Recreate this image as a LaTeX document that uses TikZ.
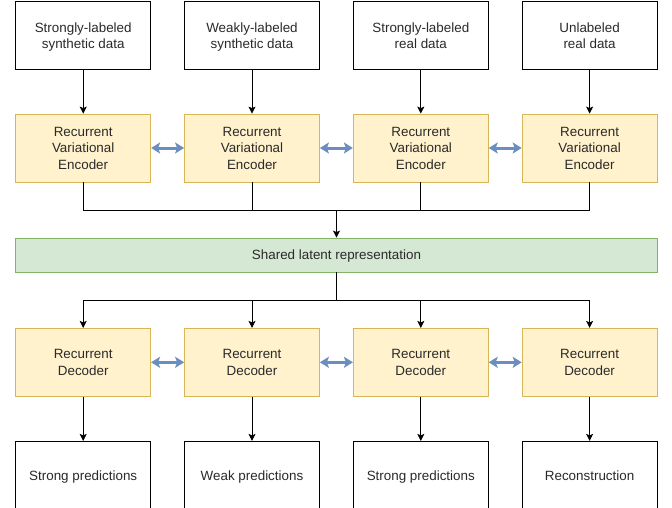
\documentclass[tikz,border=0pt]{standalone}
\usepackage{fontspec}
\setmainfont{Liberation Sans}
\usetikzlibrary{arrows.meta, positioning, calc}
\definecolor{encfill}{HTML}{FFF2CC}
\definecolor{encdraw}{HTML}{D6B656}
\definecolor{latfill}{HTML}{D5E8D4}
\definecolor{latdraw}{HTML}{82B366}
\definecolor{linkblue}{HTML}{6C8EBF}
\definecolor{txt}{HTML}{2A2A2A}

\begin{document}
\begin{tikzpicture}[
  x=1pt, y=-1pt,
  >={Stealth[length=7pt,width=7pt,inset=1.5pt]},
  box/.style={draw=black, line width=0.8pt, minimum width=135pt, minimum height=68pt, inner sep=0pt, align=center, text depth=0pt, text=txt, font=\fontsize{13.4}{16.5}\selectfont},
  databox/.style={box, fill=white},
  netbox/.style={box, draw=encdraw, fill=encfill},
  latent/.style={box, draw=latdraw, fill=latfill, minimum width=641.6pt, minimum height=34pt},
  flow/.style={draw=black, line width=0.8pt},
  link/.style={draw=linkblue, line width=3pt, {Stealth[length=9pt,width=11pt,inset=2pt]}-{Stealth[length=9pt,width=11pt,inset=2pt]}}
  ]
  \useasboundingbox (0,0) rectangle (672,507);
  % inputs
  \node[databox] (in1) at (83.2,35.5)  {Strongly-labeled\\synthetic data};
  \node[databox] (in2) at (252,35.5)   {Weakly-labeled\\synthetic data};
  \node[databox] (in3) at (420.8,35.5) {Strongly-labeled\\real data};
  \node[databox] (in4) at (589.6,35.5) {Unlabeled\\real data};
  % encoders
  \node[netbox] (enc1) at (83.2,148)  {Recurrent\\Variational\\Encoder};
  \node[netbox] (enc2) at (252,148)   {Recurrent\\Variational\\Encoder};
  \node[netbox] (enc3) at (420.8,148) {Recurrent\\Variational\\Encoder};
  \node[netbox] (enc4) at (589.6,148) {Recurrent\\Variational\\Encoder};
  % shared latent
  \node[latent] (lat) at (336.5,255) {Shared latent representation};
  % decoders
  \node[netbox] (dec1) at (83.2,362.3)  {Recurrent\\Decoder};
  \node[netbox] (dec2) at (252,362.3)   {Recurrent\\Decoder};
  \node[netbox] (dec3) at (420.8,362.3) {Recurrent\\Decoder};
  \node[netbox] (dec4) at (589.6,362.3) {Recurrent\\Decoder};
  % outputs
  \node[databox] (out1) at (83.2,475.3)  {Strong predictions};
  \node[databox] (out2) at (252,475.3)   {Weak predictions};
  \node[databox] (out3) at (420.8,475.3) {Strong predictions};
  \node[databox] (out4) at (589.6,475.3) {Reconstruction};

  \coordinate (mergeE) at (336.5,210);
  \coordinate (splitD) at (336.5,300);

  \draw[flow,->] (in1) -- (enc1);
  \draw[flow,->] (in2) -- (enc2);
  \draw[flow,->] (in3) -- (enc3);
  \draw[flow,->] (in4) -- (enc4);

  \draw[link] (enc1) -- (enc2);
  \draw[link] (enc2) -- (enc3);
  \draw[link] (enc3) -- (enc4);

  \draw[flow] (enc1.south) |- (mergeE);
  \draw[flow] (enc4.south) |- (mergeE);
  \draw[flow] (enc2.south) -- (enc2.south |- mergeE);
  \draw[flow] (enc3.south) -- (enc3.south |- mergeE);
  \draw[flow,->] (mergeE) -- (lat.north);

  \draw[flow] (lat.south) -- (splitD);
  \draw[flow,->] (splitD) -| (dec1.north);
  \draw[flow,->] (splitD) -| (dec2.north);
  \draw[flow,->] (splitD) -| (dec3.north);
  \draw[flow,->] (splitD) -| (dec4.north);

  \draw[link] (dec1) -- (dec2);
  \draw[link] (dec2) -- (dec3);
  \draw[link] (dec3) -- (dec4);

  \draw[flow,->] (dec1) -- (out1);
  \draw[flow,->] (dec2) -- (out2);
  \draw[flow,->] (dec3) -- (out3);
  \draw[flow,->] (dec4) -- (out4);
\end{tikzpicture}
\end{document}
